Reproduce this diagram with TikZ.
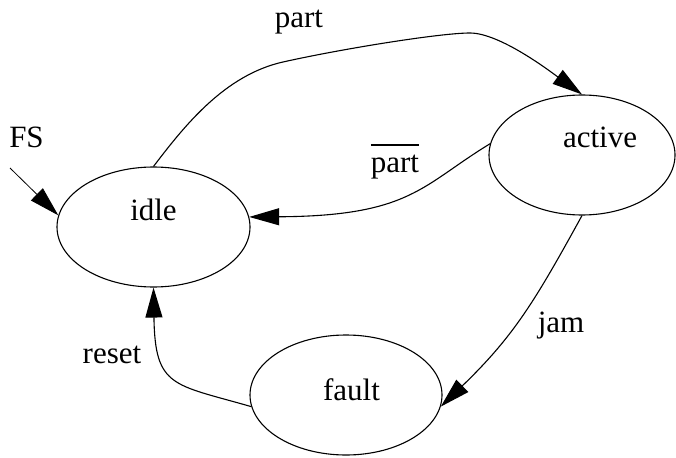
\documentclass[tikz,border=0pt]{standalone}
\usepackage{fontspec}
\setmainfont{Liberation Serif}
\usetikzlibrary{shapes.geometric,arrows.meta}
\newcommand\barword[1]{\setbox0=\hbox{#1}\rlap{\rule[26.5pt]{\wd0}{1.3pt}}\box0}
\begin{document}
\begin{tikzpicture}[x=1pt,y=-1pt,
  state/.style={draw,ellipse,line width=1.1pt,inner sep=0pt},
  lbl/.style={font=\fontsize{31pt}{36pt}\selectfont,inner sep=0pt,anchor=base},
  edge/.style={line width=1.1pt,-{Triangle[length=30pt,width=17pt]}}]
\useasboundingbox (0,0) rectangle (676,457);
\node[state,minimum width=193pt,minimum height=120pt] (idle) at (153.5,227) {};
\node[state,minimum width=186pt,minimum height=120pt] (active) at (582,155) {};
\node[state,minimum width=192pt,minimum height=120pt] (fault) at (346,395) {};
\node[lbl] (idletext) at (153.5,220) {idle};
\node[lbl] (activetext) at (600,148) {active};
\node[lbl] (faulttext) at (351.5,400) {fault};
\node[lbl] (fslabel) at (26.5,148) {FS};
\node[lbl] (partlabel) at (299,28) {part};
\node[lbl] (notpartlabel) at (395,172) {\barword{part}};
\node[lbl] (jamlabel) at (561,332) {jam};
\node[lbl] (resetlabel) at (112,363) {reset};
\coordinate (fsstart) at (10,168);
\draw[edge,line width=0.8pt] (fsstart) -- (idle.173);
\draw[edge] (idle.north) .. controls (185,125) and (225,75) .. (283,62)
  .. controls (341,49) and (440,33) .. (470,33)
  .. controls (500,33) and (551,72) .. (active.north);
\draw[edge] (active.173) .. controls (422,185) and (411,216) .. (idle.6);
\draw[edge] (active.south) .. controls (535,301) and (514,336) .. (fault.-7);
\draw[edge] (fault.187) .. controls (173,384) and (155,388) .. (idle.south);
\end{tikzpicture}
\end{document}
